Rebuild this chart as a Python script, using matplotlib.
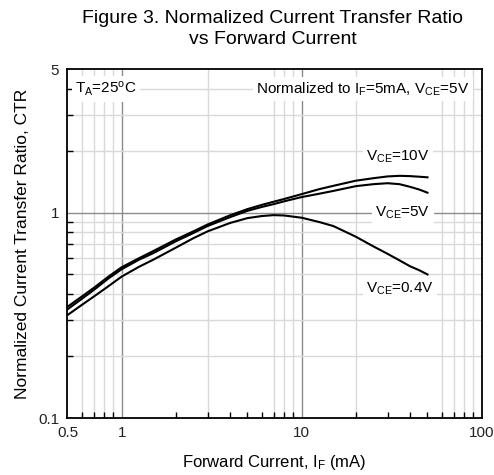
import matplotlib
matplotlib.use('Agg')
import matplotlib.pyplot as plt
from matplotlib.ticker import FixedLocator, NullFormatter, FixedFormatter

plt.rcParams['font.family'] = ['Liberation Sans', 'DejaVu Sans']
plt.rcParams['mathtext.fontset'] = 'custom'
plt.rcParams['mathtext.rm'] = 'Liberation Sans'
plt.rcParams['mathtext.it'] = 'Liberation Sans:italic'

# forward current (mA)
if_ma = [0.5, 0.6, 0.7, 0.85, 1, 1.25, 1.5, 2, 2.5, 3, 4, 5, 6, 7, 8, 10, 12.5, 15, 20, 25, 30, 35, 40, 45, 50]
ctr_10v = [0.348, 0.39, 0.43, 0.49, 0.542, 0.60, 0.65, 0.74, 0.81, 0.875, 0.97, 1.04, 1.09, 1.13, 1.165, 1.23,
           1.30, 1.35, 1.43, 1.47, 1.50, 1.51, 1.505, 1.495, 1.485]
ctr_5v = [0.338, 0.38, 0.42, 0.48, 0.53, 0.59, 0.635, 0.725, 0.795, 0.86, 0.95, 1.02, 1.065, 1.10, 1.135, 1.19,
          1.235, 1.275, 1.345, 1.375, 1.39, 1.375, 1.335, 1.295, 1.25]
ctr_04v = [0.317, 0.355, 0.39, 0.44, 0.488, 0.545, 0.59, 0.675, 0.75, 0.81, 0.89, 0.94, 0.962, 0.972, 0.968, 0.944,
           0.90, 0.86, 0.763, 0.685, 0.63, 0.585, 0.548, 0.524, 0.50]

x_ticks = [0.5, 1, 10, 100]
y_ticks = [0.1, 1, 5]
x_grid_light = [0.6, 0.7, 0.8, 0.9, 3, 7, 8, 9, 20, 60, 70, 80, 90]
x_grid_dark = [1, 10]
y_grid_light = [0.2, 0.3, 0.4, 0.5, 0.6, 0.7, 0.8, 0.9, 2, 3, 4]
y_grid_dark = [1]

fig = plt.figure(figsize=(4.94, 4.75), dpi=100)
ax = fig.add_axes([0.1366, 0.12, 0.8384, 0.7347])
ax.set_xscale('log')
ax.set_yscale('log')
ax.set_xlim(0.5, 100)
ax.set_ylim(0.1, 5)

for xv in x_grid_light:
    ax.axvline(xv, color='#d9d9d9', lw=1.0, zorder=1)
for xv in x_grid_dark:
    ax.axvline(xv, color='#8c8c8c', lw=1.0, zorder=1)
for yv in y_grid_light:
    ax.axhline(yv, color='#d9d9d9', lw=1.0, zorder=1)
for yv in y_grid_dark:
    ax.axhline(yv, color='#8c8c8c', lw=1.0, zorder=1)

ax.plot(if_ma, ctr_10v, color='black', lw=1.5, zorder=3)
ax.plot(if_ma, ctr_5v, color='black', lw=1.5, zorder=3)
ax.plot(if_ma, ctr_04v, color='black', lw=1.5, zorder=3)

ax.xaxis.set_major_locator(FixedLocator(x_ticks))
ax.xaxis.set_major_formatter(FixedFormatter(['0.5', '1', '10', '100']))
ax.yaxis.set_major_locator(FixedLocator(y_ticks))
ax.yaxis.set_major_formatter(FixedFormatter(['0.1', '1', '5']))
ax.xaxis.set_minor_formatter(NullFormatter())
ax.yaxis.set_minor_formatter(NullFormatter())
ax.tick_params(which='both', direction='in', top=False, right=False,
               labelsize=11, color='black', labelcolor='#222222')
ax.tick_params(which='major', length=0, pad=6)
ax.tick_params(which='minor', length=4, width=1)
for s in ax.spines.values():
    s.set_linewidth(1.3)

box = dict(facecolor='white', edgecolor='none', pad=2.5)
fs = 11
ax.text(0.818, 4.0, r'T$_{\mathrm{A}}$=25$^{\mathrm{o}}$C', ha='center', va='center',
        fontsize=fs, bbox=box, zorder=2)
ax.text(21.9, 4.0, r'Normalized to I$_{\mathrm{F}}$=5mA, V$_{\mathrm{CE}}$=5V',
        ha='center', va='center', fontsize=fs, bbox=box, zorder=2)
ax.text(34.3, 1.87, r'V$_{\mathrm{CE}}$=10V', ha='center', va='center',
        fontsize=fs, bbox=box, zorder=2)
ax.text(36.5, 1.0, r'V$_{\mathrm{CE}}$=5V', ha='center', va='center',
        fontsize=fs, bbox=box, zorder=2)
ax.text(35.2, 0.425, r'V$_{\mathrm{CE}}$=0.4V', ha='center', va='center',
        fontsize=fs, bbox=box, zorder=2)

ax.set_xlabel(r'Forward Current, I$_{\mathrm{F}}$ (mA)', fontsize=12, labelpad=9)
ax.set_ylabel('Normalized Current Transfer Ratio, CTR', fontsize=12.5, labelpad=6)
fig.suptitle('Figure 3. Normalized Current Transfer Ratio\nvs Forward Current',
             x=0.552, y=0.978, fontsize=14, linespacing=1.25)

fig.savefig('out.png', dpi=100)
